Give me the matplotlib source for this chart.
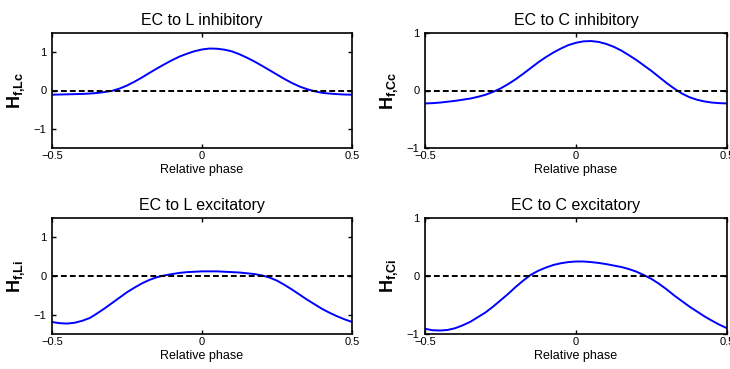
import numpy as np
import matplotlib
matplotlib.use('Agg')
import matplotlib.pyplot as plt

plt.rcParams['font.family'] = ['Liberation Sans', 'DejaVu Sans']
plt.rcParams['mathtext.fontset'] = 'custom'
plt.rcParams['mathtext.rm'] = 'Liberation Sans'
plt.rcParams['mathtext.bf'] = 'Liberation Sans:bold'

# relative phase, sampled every 0.025
phase = np.round(np.linspace(-0.5, 0.5, 41), 3)

# values
h_f_Lc = [-0.11, -0.105, -0.10, -0.095, -0.09, -0.08, -0.065, -0.04, -0.01, 0.05,
          0.13, 0.23, 0.34, 0.46, 0.575, 0.685, 0.79, 0.885, 0.96, 1.025,
          1.07, 1.095, 1.09, 1.065, 1.02, 0.945, 0.855, 0.755, 0.645, 0.53,
          0.415, 0.30, 0.195, 0.105, 0.035, -0.02, -0.06, -0.08, -0.095, -0.105,
          -0.11]
h_f_Cc = [-0.225, -0.22, -0.21, -0.195, -0.18, -0.16, -0.14, -0.11, -0.075, -0.025,
          0.035, 0.11, 0.195, 0.29, 0.39, 0.49, 0.58, 0.66, 0.73, 0.79,
          0.83, 0.855, 0.86, 0.845, 0.81, 0.76, 0.695, 0.615, 0.53, 0.435,
          0.34, 0.235, 0.13, 0.035, -0.05, -0.115, -0.16, -0.19, -0.21, -0.22,
          -0.225]
h_f_Li = [-1.19, -1.22, -1.23, -1.21, -1.16, -1.09, -0.97, -0.84, -0.70, -0.56,
          -0.42, -0.30, -0.19, -0.10, -0.03, 0.015, 0.05, 0.08, 0.10, 0.11,
          0.12, 0.12, 0.12, 0.11, 0.10, 0.09, 0.07, 0.05, 0.015, -0.04,
          -0.12, -0.23, -0.35, -0.48, -0.61, -0.73, -0.85, -0.95, -1.04, -1.12,
          -1.19]
h_f_Ci = [-0.91, -0.935, -0.94, -0.93, -0.90, -0.85, -0.79, -0.71, -0.63, -0.53,
          -0.42, -0.31, -0.19, -0.08, 0.02, 0.09, 0.145, 0.19, 0.22, 0.24,
          0.25, 0.25, 0.24, 0.225, 0.205, 0.18, 0.155, 0.12, 0.075, 0.015,
          -0.05, -0.135, -0.23, -0.335, -0.43, -0.525, -0.61, -0.695, -0.77, -0.84,
          -0.90]

titles = ['EC to L inhibitory', 'EC to C inhibitory', 'EC to L excitatory', 'EC to C excitatory']
ylabels = [r'$\mathbf{H}_{\mathbf{f{,}Lc}}$', r'$\mathbf{H}_{\mathbf{f{,}Cc}}$',
           r'$\mathbf{H}_{\mathbf{f{,}Li}}$', r'$\mathbf{H}_{\mathbf{f{,}Ci}}$']
series = [h_f_Lc, h_f_Cc, h_f_Li, h_f_Ci]
ylims = [1.5, 1.0, 1.5, 1.0]

W, H = 730, 369
# axes boxes in pixels: left, top, right, bottom
boxes = [(52, 33, 352, 148), (425, 33, 727, 148), (52, 218, 352, 334), (425, 218, 727, 334)]

fig = plt.figure(figsize=(W / 100, H / 100), dpi=100)
for i in range(4):
    l, t, r, b = boxes[i]
    ax = fig.add_axes([l / W, 1 - b / H, (r - l) / W, (b - t) / H])
    ax.plot(phase, series[i], color='#0000ff', lw=1.4)
    ax.axhline(0, color='black', ls=(0, (3, 1.6)), lw=1.4)
    ax.set_xlim(-0.5, 0.5)
    ax.set_ylim(-ylims[i], ylims[i])
    ax.set_xticks([-0.5, 0, 0.5])
    ax.set_xticklabels(['\u22120.5', '0', '0.5'])
    ax.set_yticks([-1, 0, 1])
    ax.set_yticklabels(['\u22121', '0', '1'])
    ax.tick_params(direction='in', top=True, right=True, length=3, width=1,
                   labelsize=8)
    ax.tick_params(axis='x', pad=2)
    ax.tick_params(axis='y', pad=4)
    for s in ax.spines.values():
        s.set_linewidth(1.2)
    ax.set_title(titles[i], fontsize=11.5, pad=6)
    ax.set_xlabel('Relative phase', fontsize=9, labelpad=2)
    ax.set_ylabel(ylabels[i], fontsize=13, labelpad=5)

fig.savefig('out.png', dpi=100)
